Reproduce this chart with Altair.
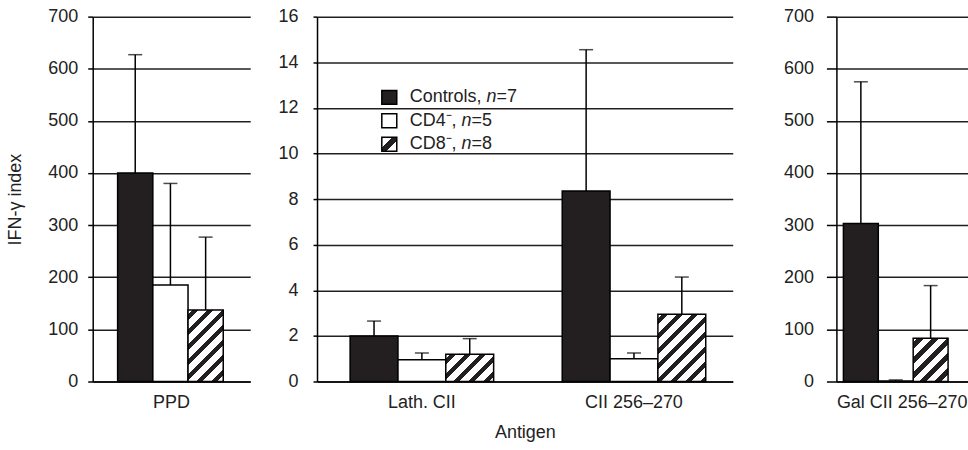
import altair as alt
import pandas as pd

# ---------------- data ----------------
antigens = ["PPD", "Lath. CII", "CII 256–270", "Gal CII 256–270"]
groups = ["Controls", "CD4", "CD8"]
controls_mean = [400, 2.0, 8.35, 303]
controls_sd = [227, 0.65, 6.2, 272]
cd4_mean = [185, 0.95, 1.0, 1]
cd4_sd = [195, 0.3, 0.25, 2]
cd8_mean = [137, 1.2, 2.95, 83]
cd8_sd = [140, 0.68, 1.63, 101]

panel_antigens = [["PPD"], ["Lath. CII", "CII 256–270"], ["Gal CII 256–270"]]
panel_ymax = [700, 16, 700]
panel_ystep = [100, 2, 100]

legend_names = ["Controls", "CD4⁻", "CD8⁻"]
legend_n = ["7", "5", "8"]

# ---------------- style ----------------
FONT = "Liberation Sans"
TEXT = "#222222"
DARK = "#231f20"
H = 366
FS = 18

rows = []
for i, a in enumerate(antigens):
    for g, m, s in (("Controls", controls_mean, controls_sd),
                    ("CD4", cd4_mean, cd4_sd),
                    ("CD8", cd8_mean, cd8_sd)):
        rows.append({"antigen": a, "group": g, "mean": m[i], "upper": m[i] + s[i]})
df = pd.DataFrame(rows)

geo = [
    dict(width=158, pi=0.0, po=0.0, al=0.5, opo=0.737, oal=0.48, ts=5, lp=10),
    dict(width=417, pi=0.1, po=0.03, al=0.74, opo=0.495, oal=0.5, ts=4, lp=15),
    dict(width=132, pi=0.0, po=0.0, al=0.5, opo=0.386, oal=0.26, ts=10, lp=13),
]


def hatch(w, h, period=15.0, frac=0.42):
    w = max(w, 1.0)
    h = max(h, 1.0)
    k = (w + h) / (w * w + h * h)
    n = (w + h) / period
    stops = [alt.GradientStop(offset=0, color="white")]
    i = 0
    while True:
        a = (i + 0.3) / n
        if a >= 1:
            break
        b = min((i + 0.3 + frac) / n, 1.0)
        stops += [alt.GradientStop(offset=a, color="white"),
                  alt.GradientStop(offset=a, color=DARK),
                  alt.GradientStop(offset=b, color=DARK),
                  alt.GradientStop(offset=b, color="white")]
        i += 1
    stops.append(alt.GradientStop(offset=1, color="white"))
    return alt.Gradient(gradient="linear", stops=stops, x1=0, y1=0, x2=k * w, y2=k * h)


AW = {"C": 722, "o": 556, "n": 556, "t": 278, "r": 333, "l": 222, "s": 500,
      ",": 278, " ": 278, "D": 722, "4": 556, "8": 556, "=": 584, "5": 556,
      "7": 556, "⁻": 333}


def tw(s, size=FS):
    return sum(AW.get(c, 556) for c in s) * size / 1000.0


one = pd.DataFrame({"k": [0]})


def legend_layers():
    out = []
    sym_x, sym_w = 65, 15
    row_y = [81, 104.5, 128]
    text_x = 93
    fills = [DARK, "white",
             alt.Gradient(gradient="linear", x1=0, y1=0, x2=1, y2=1,
                          stops=[alt.GradientStop(offset=0, color="white"),
                                 alt.GradientStop(offset=0.36, color="white"),
                                 alt.GradientStop(offset=0.36, color=DARK),
                                 alt.GradientStop(offset=0.64, color=DARK),
                                 alt.GradientStop(offset=0.64, color="white"),
                                 alt.GradientStop(offset=1, color="white")])]
    for r in range(3):
        yc = row_y[r]
        out.append(alt.Chart(one).mark_rect(fill=fills[r], stroke="black", strokeWidth=1.5).encode(
            x=alt.value(sym_x), x2=alt.value(sym_x + sym_w),
            y=alt.value(yc - 7), y2=alt.value(yc + 7)))
        seg1 = legend_names[r] + ", "
        x1 = text_x
        x2 = x1 + tw(seg1)
        x3 = x2 + tw("n")
        for txt, xx, style in ((seg1, x1, "normal"), ("n", x2, "italic"), ("=" + legend_n[r], x3, "normal")):
            out.append(alt.Chart(one).mark_text(text=txt, align="left", baseline="middle",
                                                fontSize=FS, font=FONT, color=TEXT,
                                                fontStyle=style).encode(
                x=alt.value(xx), y=alt.value(yc)))
    return out


def panel(p):
    g = geo[p]
    ants = panel_antigens[p]
    d = df[df.antigen.isin(ants)]
    ymax = panel_ymax[p]
    x = alt.X("antigen:N", sort=ants,
              scale=alt.Scale(domain=ants, paddingInner=g["pi"], paddingOuter=g["po"], align=g["al"]),
              axis=alt.Axis(title="Antigen" if p == 1 else None, labelAngle=0, ticks=False,
                            domain=True, domainColor="black", domainWidth=1.5,
                            labelFontSize=FS, labelPadding=12, labelColor=TEXT, labelFont=FONT,
                            titleFontSize=FS, titleFontWeight="normal", titleColor=TEXT,
                            titleFont=FONT, titlePadding=12))
    xo = alt.XOffset("group:N", sort=groups,
                     scale=alt.Scale(domain=groups, paddingInner=0, paddingOuter=g["opo"], align=g["oal"]))
    y_scale = alt.Scale(domain=[0, ymax], nice=False, zero=True)
    y_axis = alt.Axis(values=list(range(0, ymax + 1, panel_ystep[p])), format="d",
                      grid=True, gridColor=DARK, gridWidth=1.5,
                      domainColor="black", domainWidth=1.5,
                      tickColor="black", tickWidth=1.5, tickSize=g["ts"],
                      labelPadding=g["lp"], labelFontSize=FS, labelColor=TEXT, labelFont=FONT,
                      title="IFN-γ index" if p == 0 else None, titleFontSize=FS,
                      titleFontWeight="normal", titleColor=TEXT, titleFont=FONT, titlePadding=23)
    y_mean = alt.Y("mean:Q", scale=y_scale, axis=y_axis)
    base = alt.Chart(d)
    layers = []
    layers.append(base.transform_filter(alt.datum.group != "CD8").mark_bar(
        stroke="black", strokeWidth=1.5).encode(
        x=x, xOffset=xo, y=y_mean,
        fill=alt.Fill("group:N", scale=alt.Scale(domain=groups, range=[DARK, "white", "white"]), legend=None)))
    band_w = g["width"] * (1 - g["pi"]) / (len(ants) - g["pi"] + 2 * g["po"])
    bar_w = band_w / (3 + 2 * g["opo"])
    for a in ants:
        v = float(d[(d.antigen == a) & (d.group == "CD8")]["mean"].iloc[0])
        h = v / ymax * H
        layers.append(base.transform_filter(
            (alt.datum.antigen == a) & (alt.datum.group == "CD8")).mark_bar(
            fill=hatch(bar_w, h), stroke="black", strokeWidth=1.5).encode(
            x=x, xOffset=xo, y=y_mean))
    layers.append(base.mark_bar(size=1.5, color="black").encode(
        x=x, xOffset=xo, y=y_mean, y2=alt.Y2("upper:Q")))
    layers.append(base.mark_tick(color="black", thickness=1.5, size=14).encode(
        x=x, xOffset=xo, y=alt.Y("upper:Q", scale=y_scale, axis=y_axis)))
    if p == 1:
        layers += legend_layers()
    return alt.layer(*layers).properties(width=g["width"], height=H)


inner = alt.hconcat(panel(0), panel(1), spacing=27).resolve_scale(
    x="independent", y="independent", xOffset="independent")
chart = alt.hconcat(inner, panel(2), spacing=50).resolve_scale(
    x="independent", y="independent", xOffset="independent").properties(
    padding={"left": 6, "top": 7, "right": 0, "bottom": 0}
).configure(font=FONT).configure_view(stroke=None)

chart.save("out.html", embed_options={"renderer": "svg", "actions": False})
